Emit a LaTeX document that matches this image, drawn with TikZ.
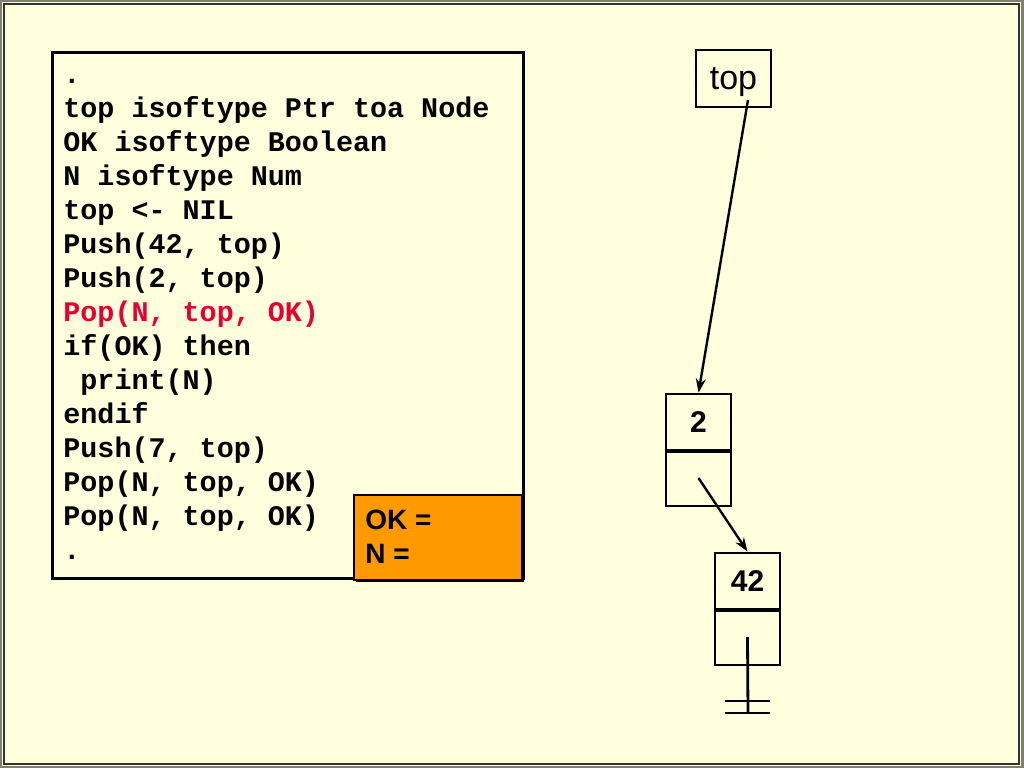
\documentclass[tikz,border=0pt]{standalone}
\usepackage{fontspec}
\setmainfont{Liberation Sans}
\setmonofont{Liberation Mono}
\usepackage{tkz-euclide}
\usetikzlibrary{arrows.meta}
\definecolor{slide}{RGB}{255,255,221}
\definecolor{rim}{RGB}{128,128,112}
\definecolor{popred}{RGB}{230,0,51}
\definecolor{flag}{RGB}{255,153,0}
\tikzset{
  cell/.style={draw,line width=1.4pt,minimum width=32.5pt,minimum height=28pt,
    inner sep=0pt,font=\fontsize{15}{18}\selectfont\bfseries},
  link/.style={line width=1.2pt,-{Stealth[length=7pt,width=5pt]}},
}

\begin{document}
\begin{tikzpicture}[x=0.5pt,y=-0.5pt]
    \useasboundingbox (0,0) rectangle (1024,768);
    \fill[rim] (0,0) rectangle (1024,768);
    \fill[slide] (2,2) rectangle (1021,766);
    \draw[line width=1pt,black!80] (3.5,3.5) rectangle (1018.5,763.5);
    % program
    \node[draw,line width=1.4pt,minimum width=235.5pt,minimum height=263pt,
      inner sep=0pt,anchor=north west] (codebox) at (51,51) {};
    \node[anchor=base west,align=left,inner sep=0pt,
      font=\ttfamily\bfseries\fontsize{14.2}{17}\selectfont] (code) at (63,559)
      {.\\
       top isoftype Ptr toa Node\\
       OK isoftype Boolean\\
       N isoftype Num\\
       top <- NIL\\
       Push(42, top)\\
       Push(2, top)\\
       {\color{popred}Pop(N, top, OK)}\\
       if(OK) then\\
       \phantom{x}print(N)\\
       endif\\
       Push(7, top)\\
       Pop(N, top, OK)\\
       Pop(N, top, OK)\\
       .};
    % values
    \fill[black] (356,497) rectangle (524,582);
    \node[draw,line width=1.2pt,fill=flag,minimum width=84pt,minimum height=42.5pt,
      inner sep=0pt,anchor=north west] (flags) at (353,494) {};
    \node[anchor=base west,align=left,inner sep=0pt,
      font=\bfseries\fontsize{14}{17}\selectfont] (flagtext) at (365,563) {OK =\\N =};
    % stack
    \node[draw,line width=1.2pt,minimum width=37.5pt,minimum height=28.5pt,
      inner sep=0pt,text depth=0pt,font=\fontsize{17}{20}\selectfont] (top) at (733.5,78.5) {top};
    \node[cell] (val2) at (698.5,422) {2};
    \node[cell] (ptr2) at (698.5,478) {};
    \node[cell] (val42) at (747.5,581) {42};
    \node[cell] (ptr42) at (747.5,637) {};
    \draw[line width=2pt] (val2.south west) -- (val2.south east);
    \draw[line width=2pt] (val42.south west) -- (val42.south east);
    \tkzDefPoint(748,100){T}
    \tkzDefPoint(748,713){G}
    \tkzDefPoint(725,701){A}
    \tkzDefPoint(770,701){B}
    \tkzDefPoint(725,713){C}
    \tkzDefPoint(770,713){D}
    \draw[link] (T) -- (val2.north);
    \draw[link] (ptr2.center) -- (val42.north);
    \draw[line width=1.4pt] (ptr42.center) -- (G);
    \draw[line width=1.4pt] (A) -- (B) (C) -- (D);
    %\tkzDrawSegments(A,B C,D)
\end{tikzpicture}
\end{document}
